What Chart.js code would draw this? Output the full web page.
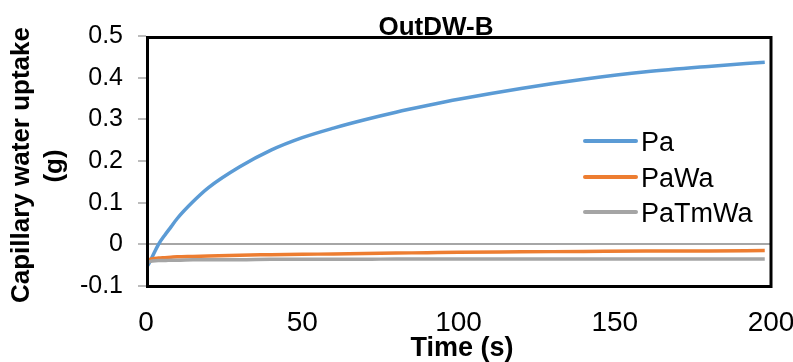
<!DOCTYPE html>
<html>
<head>
    <meta charset="UTF-8" />
    <title>OutDW-B</title>
    <script src="https://cdn.jsdelivr.net/npm/chart.js@4.4.1/dist/chart.umd.min.js"></script>
    <style>
        body { margin: 0; background: #fff; }
        #wrap { width: 793px; height: 362px; position: relative; }
    </style>
</head>
<body>
    <div id="wrap"><canvas id="chart"></canvas></div>

    <script>
        // values (time in s, uptake in g)
        const times = [0, 1, 2, 4, 6, 8, 10, 15, 20, 30, 40, 50, 60, 70, 80, 90, 100, 120, 140, 160, 180, 198];
        const pa = [-0.058, -0.045, -0.03, 0.0, 0.022, 0.042, 0.062, 0.102, 0.136, 0.186, 0.226, 0.256, 0.279, 0.299, 0.317, 0.333, 0.348, 0.374, 0.396, 0.414, 0.427, 0.437];
        const paWa = [-0.052, -0.038, -0.035, -0.033, -0.032, -0.031, -0.03, -0.029, -0.028, -0.026, -0.025, -0.024, -0.023, -0.022, -0.021, -0.02, -0.019, -0.018, -0.017, -0.016, -0.016, -0.015];
        const paTmWa = [-0.046, -0.042, -0.04, -0.039, -0.039, -0.038, -0.038, -0.037, -0.037, -0.037, -0.036, -0.036, -0.036, -0.036, -0.035, -0.035, -0.035, -0.035, -0.035, -0.035, -0.035, -0.035];

        const seriesNames = ['Pa', 'PaWa', 'PaTmWa'];
        const xTicks = [0, 50, 100, 150, 200];
        const yTicks = [-0.1, 0, 0.1, 0.2, 0.3, 0.4, 0.5];

        const chartTitle = 'OutDW-B';
        const yTitle = ['Capillary water uptake', '(g)'];
        const xTitle = 'Time (s)';

        const FONT = '"Liberation Sans", Arial, sans-serif';

        function pts(ys) {
            return times.map((t, i) => ({ x: t, y: ys[i] }));
        }

        // title, axis titles, legend and plot frame
        const decor = {
            id: 'decor',
            afterDraw(chart) {
                const ctx = chart.ctx;
                const a = chart.chartArea;
                ctx.save();

                // frame
                ctx.strokeStyle = '#000';
                ctx.lineWidth = 3;
                ctx.strokeRect(a.left + 1.5, a.top + 1.5, a.right - a.left - 1.5, a.bottom - a.top - 1);

                ctx.fillStyle = '#000';
                ctx.font = 'bold 26px ' + FONT;
                ctx.textAlign = 'center';
                ctx.textBaseline = 'alphabetic';
                ctx.fillText(chartTitle, 436, 35);

                ctx.font = 'bold 27px ' + FONT;
                ctx.fillText(xTitle, 462, 356);

                ctx.font = 'bold 26px ' + FONT;
                ctx.save();
                ctx.translate(29, 165);
                ctx.rotate(-Math.PI / 2);
                ctx.fillText(yTitle[0], 0, 0);
                ctx.restore();
                ctx.save();
                ctx.translate(62, 166);
                ctx.rotate(-Math.PI / 2);
                ctx.fillText(yTitle[1], 0, 0);
                ctx.restore();

                // legend
                const rows = [141, 177, 212];
                ctx.font = '27px ' + FONT;
                ctx.textAlign = 'left';
                chart.data.datasets.forEach((ds, i) => {
                    ctx.strokeStyle = ds.borderColor;
                    ctx.lineWidth = 4;
                    ctx.lineCap = 'round';
                    ctx.beginPath();
                    ctx.moveTo(585, rows[i]);
                    ctx.lineTo(636, rows[i]);
                    ctx.stroke();
                    ctx.fillStyle = '#000';
                    ctx.fillText(ds.label, 641, rows[i] + 9.5);
                });

                ctx.restore();
            }
        };

        const ctx = document.getElementById('chart').getContext('2d');
        const chart = new Chart(ctx, {
            type: 'scatter',
            data: {
                datasets: [
                    { label: seriesNames[0], data: pts(pa), borderColor: '#5B9BD5', order: 2 },
                    { label: seriesNames[1], data: pts(paWa), borderColor: '#ED7D31', order: 1 },
                    { label: seriesNames[2], data: pts(paTmWa), borderColor: '#A5A5A5', order: 0 }
                ].map(d => Object.assign(d, {
                    showLine: true,
                    borderWidth: 3.5,
                    pointRadius: 0,
                    cubicInterpolationMode: 'monotone',
                    fill: false
                }))
            },
            options: {
                responsive: true,
                maintainAspectRatio: false,
                animation: false,
                devicePixelRatio: 1,
                layout: { padding: { left: 0, right: 22, top: 36, bottom: 0 } },
                plugins: {
                    legend: { display: false },
                    tooltip: { enabled: false }
                },
                scales: {
                    x: {
                        type: 'linear',
                        min: 0,
                        max: 200,
                        afterBuildTicks: s => { s.ticks = xTicks.map(v => ({ value: v })); },
                        afterFit: s => { s.height = 76; s.paddingLeft = 0; s.paddingRight = 0; },
                        grid: { display: false },
                        border: { display: false },
                        ticks: {
                            color: '#000',
                            font: { family: FONT, size: 28 },
                            padding: 12,
                            maxRotation: 0
                        }
                    },
                    y: {
                        min: -0.1,
                        max: 0.5,
                        afterBuildTicks: s => { s.ticks = yTicks.map(v => ({ value: v })); },
                        afterFit: s => { s.width = 146; s.paddingTop = 0; s.paddingBottom = 0; },
                        border: { display: false },
                        grid: {
                            color: c => (c.tick && c.tick.value === 0) ? '#A6A6A6' : 'rgba(0,0,0,0)',
                            lineWidth: 2,
                            tickColor: '#A6A6A6',
                            tickWidth: 1.5,
                            tickLength: 8
                        },
                        ticks: {
                            color: '#000',
                            font: { family: FONT, size: 25 },
                            padding: 15,
                            callback: v => String(Math.round(v * 10) / 10)
                        }
                    }
                }
            },
            plugins: [decor]
        });
    </script>
</body>
</html>
